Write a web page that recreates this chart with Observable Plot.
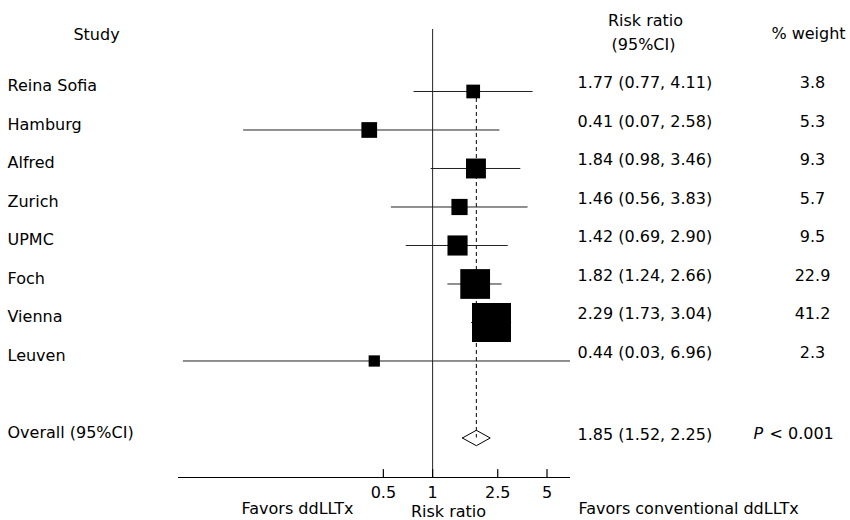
<!DOCTYPE html>
<html><head><meta charset="utf-8">
<script src="https://cdn.jsdelivr.net/npm/d3@7"></script>
<script src="https://cdn.jsdelivr.net/npm/@observablehq/plot@0.6"></script>
<style>body{margin:0;background:#fff}</style>
</head><body><div id="chart"></div>
<script>
// ---- data ----
const studies = ["Reina Sofia", "Hamburg", "Alfred", "Zurich", "UPMC", "Foch", "Vienna", "Leuven"];
const riskRatio = [1.77, 0.41, 1.84, 1.46, 1.42, 1.82, 2.29, 0.44];
const lowerCI   = [0.77, 0.07, 0.98, 0.56, 0.69, 1.24, 1.73, 0.03];
const upperCI   = [4.11, 2.58, 3.46, 3.83, 2.90, 2.66, 3.04, 6.96];
const weights   = [3.8, 5.3, 9.3, 5.7, 9.5, 22.9, 41.2, 2.3];
const overallLabel = "Overall (95%CI)";
const overallRR = 1.85, overallLo = 1.52, overallHi = 2.25;
const pSymbol = "P", pText = "< 0.001";
const tickValues = [0.5, 1, 2.5, 5];
const tickLabels = ["0.5", "1", "2.5", "5"];
const headerStudy = "Study", headerRR1 = "Risk ratio", headerRR2 = "(95%CI)", headerW = "% weight";
const axisTitle = "Risk ratio", favorsLeft = "Favors ddLLTx", favorsRight = "Favors conventional ddLLTx";

// ---- table ----
const fmt = v => v.toFixed(2);
const rows = studies.map((s, i) => ({
  study: s, rr: riskRatio[i], lo: lowerCI[i], hi: upperCI[i], w: weights[i], row: i,
  label: `${fmt(riskRatio[i])} (${fmt(lowerCI[i])}, ${fmt(upperCI[i])})`,
  wlabel: weights[i].toFixed(1)
}));
const overallRow = studies.length + 1;
const overall = {rr: overallRR, lo: overallLo, hi: overallHi, row: overallRow,
  label: `${fmt(overallRR)} (${fmt(overallLo)}, ${fmt(overallHi)})`};
const dh = 0.2;
const diamond = [
  {x: overall.lo, y: overallRow}, {x: overall.rr, y: overallRow - dh},
  {x: overall.hi, y: overallRow}, {x: overall.rr, y: overallRow + dh},
  {x: overall.lo, y: overallRow}
];
const plotTop = 29, plotBottom = 477;
const yDomain = [-1.61, 10.026];
const pxPerRow = (plotBottom - plotTop) / (yDomain[1] - yDomain[0]);
const tickLen = 8;
const tickSegs = tickValues.flatMap(v => [
  {v, y: yDomain[1]}, {v, y: yDomain[1] - tickLen / pxPerRow}
]);
const T = {fontSize: 16, lineAnchor: "bottom"};

const chart = Plot.plot({
  width: 850, height: 520,
  marginLeft: 178, marginRight: 280, marginTop: plotTop, marginBottom: 520 - plotBottom,
  style: {fontFamily: "DejaVu Sans", fontSize: "16px", color: "black", background: "white"},
  x: {type: "log", domain: [0.028, 6.96], axis: null},
  y: {domain: yDomain, range: [plotTop, plotBottom], axis: null},
  r: {type: "sqrt", domain: [0, 41.2], range: [1.52, 22]},
  marks: [
    Plot.ruleY([yDomain[1]], {stroke: "black"}),
    Plot.ruleX([1], {stroke: "#222"}),
    Plot.ruleX([overall.rr], {y1: 0, y2: overallRow, stroke: "black", strokeDasharray: "4,3"}),
    Plot.ruleY(rows, {y: "row", x1: "lo", x2: "hi", stroke: "#222"}),
    Plot.dot(rows, {x: "rr", y: "row", r: "w", symbol: "square", fill: "black"}),
    Plot.line(diamond, {x: "x", y: "y", stroke: "black", strokeWidth: 1}),
    // x axis ticks (pointing up) and labels
    Plot.line(tickSegs, {x: "v", y: "y", z: "v", stroke: "black", strokeWidth: 1.2}),
    Plot.text(tickValues, {...T, x: d => d, text: (d, i) => tickLabels[i], frameAnchor: "bottom", dy: 20, textAnchor: "middle"}),
    // study names
    Plot.text(rows, {...T, y: "row", text: "study", frameAnchor: "left", dx: -171, textAnchor: "start"}),
    Plot.text(rows, {...T, y: "row", text: "label", frameAnchor: "right", dx: 7, dy: -3, textAnchor: "start"}),
    Plot.text(rows, {...T, y: "row", text: "wlabel", frameAnchor: "right", dx: 242, dy: -3, textAnchor: "middle"}),
    // overall
    Plot.text([overall], {...T, y: "row", text: () => overallLabel, frameAnchor: "left", dx: -171, textAnchor: "start"}),
    Plot.text([overall], {...T, y: "row", text: "label", frameAnchor: "right", dx: 7, dy: 2, textAnchor: "start"}),
    Plot.text([overall], {...T, y: "row", text: () => pSymbol, frameAnchor: "right", dx: 183, dy: 1, textAnchor: "start", fontStyle: "italic"}),
    Plot.text([overall], {...T, y: "row", text: () => pText, frameAnchor: "right", dx: 199, dy: 1, textAnchor: "start"}),
    // headers
    Plot.text([headerStudy], {...T, text: d => d, frameAnchor: "top-left", dx: -82, dy: 10, textAnchor: "middle"}),
    Plot.text([headerRR1], {...T, text: d => d, frameAnchor: "top-right", dx: 75, dy: -4, textAnchor: "middle"}),
    Plot.text([headerRR2], {...T, text: d => d, frameAnchor: "top-right", dx: 73, dy: 20, textAnchor: "middle"}),
    Plot.text([headerW], {...T, text: d => d, frameAnchor: "top-right", dx: 238, dy: 9, textAnchor: "middle"}),
    // bottom labels
    Plot.text([favorsLeft], {...T, text: d => d, frameAnchor: "bottom-left", dx: 119, dy: 36, textAnchor: "middle"}),
    Plot.text([axisTitle], {...T, text: d => d, frameAnchor: "bottom-left", dx: 270, dy: 39, textAnchor: "middle"}),
    Plot.text([favorsRight], {...T, text: d => d, frameAnchor: "bottom-right", dx: 8, dy: 36, textAnchor: "start"})
  ]
});
document.getElementById("chart").appendChild(chart);
</script>
</body></html>
